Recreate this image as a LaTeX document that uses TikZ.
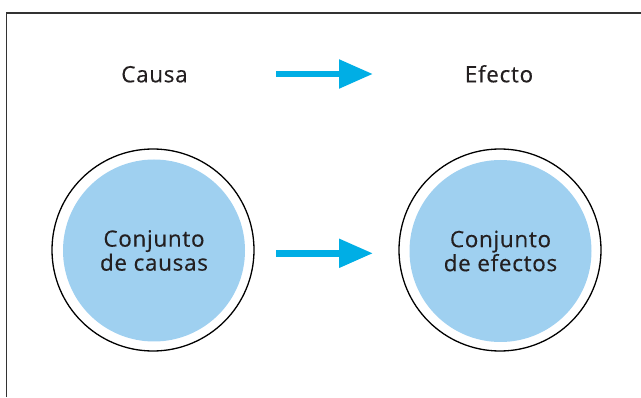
\documentclass[tikz,border=0pt]{standalone}
\usepackage{fontspec}
\setmainfont{Open Sans}[LetterSpace=3,FakeBold=0.35]
\usetikzlibrary{arrows.meta}
\definecolor{txt}{HTML}{231F20}
\definecolor{fillblue}{HTML}{9FD0F0}
\definecolor{arrowblue}{HTML}{00AEE5}
\definecolor{framegray}{HTML}{333333}
\begin{document}
\begin{tikzpicture}[x=1pt,y=1pt,
  lbl/.style={font=\fontsize{22.5}{24}\selectfont, text=txt, inner sep=0pt, align=center},
  outerring/.style={circle, draw=black, line width=1.3pt, minimum size=202pt, inner sep=0pt},
  innerdisc/.style={circle, fill=fillblue, minimum size=182pt, inner sep=0pt, font=\fontsize{22.5}{24}\selectfont, text=txt, align=center},
  bigarrow/.style={draw=arrowblue, line width=6.7pt, -{Triangle[length=34pt,width=27.5pt]}}]
\useasboundingbox (0,0) rectangle (641,397);
\draw[line width=1.3pt, framegray] (6.5,0) -- (6.5,384) -- (641,384);
\node[lbl, anchor=base] (causa) at (154.5,314.7) {Causa};
\node[lbl, anchor=base] (efecto) at (499,314.7) {Efecto};
\coordinate (a1s) at (276,323);
\coordinate (a1e) at (373,323);
\draw[bigarrow] (a1s) -- (a1e);
\node[outerring] (causeouter) at (153,147) {};
\node[innerdisc] (causes) at (154,146.5) {Conjunto\\de causas};
\node[outerring] (effectouter) at (500,147) {};
\node[innerdisc] (effects) at (500.5,146) {Conjunto\\de efectos};
\coordinate (a2s) at (276,143.7);
\coordinate (a2e) at (373,143.7);
\draw[bigarrow] (a2s) -- (a2e);
\end{tikzpicture}
\end{document}
